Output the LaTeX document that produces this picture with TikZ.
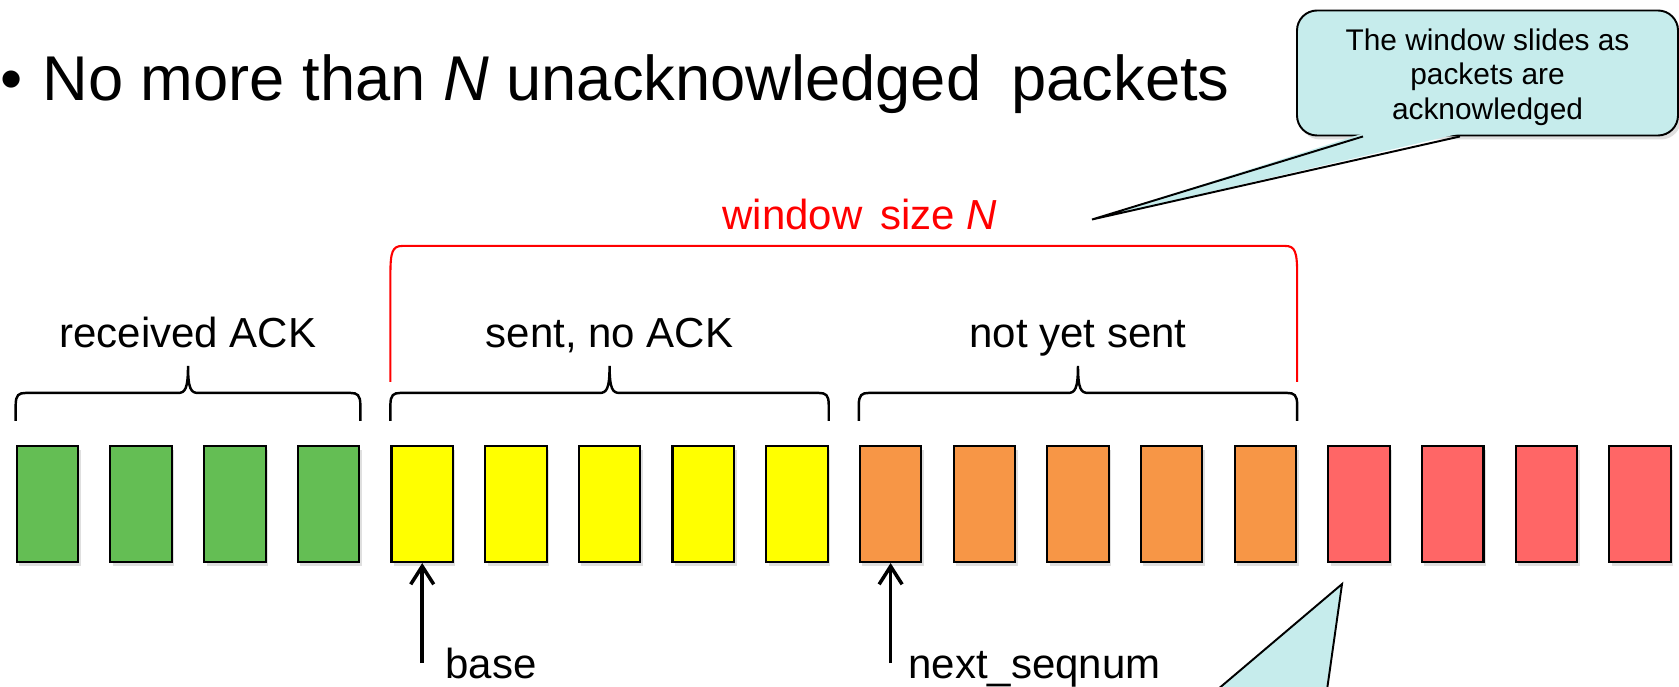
\documentclass[tikz,border=0pt]{standalone}
\usepackage{fontspec}
\setmainfont{Liberation Sans}
\usetikzlibrary{calc,arrows.meta,shadows}

\definecolor{ackgreen}{RGB}{100,190,84}
\definecolor{sentyellow}{RGB}{255,255,0}
\definecolor{waitorange}{RGB}{247,150,70}
\definecolor{freered}{RGB}{255,102,102}
\definecolor{noteblue}{RGB}{198,236,236}

\tikzset{
  pkt/.style={draw=black, line width=1.2pt, minimum width=12.3mm, minimum height=23.2mm,
    inner sep=0pt, drop shadow={opacity=.25, shadow xshift=.5mm, shadow yshift=-.8mm}},
  lbl/.style={font=\fontsize{23.9}{28}\selectfont, inner sep=0pt, anchor=base},
  headline/.style={font=\fontsize{36}{42}\selectfont, inner sep=0pt},
  grp/.style={line width=1.4pt},
  win/.style={red, line width=1.2pt},
  ptr/.style={line width=2pt, -{Straight Barb[length=3.6mm, width=4.6mm]}},
  note/.style={draw=black, fill=noteblue, line width=1.1pt, rounded corners=4mm,
    align=center, font=\fontsize{17}{19.6}\selectfont,
    drop shadow={opacity=.25, shadow xshift=.6mm, shadow yshift=-.8mm}}
}

% brace over a group of packets, from box #1 to box #2
\newcommand{\grpbrace}[2]{%
  \draw[grp] let \p1=(#1.north west), \p2=(#2.north east),
      \p3=($(#1.north west)!.5!(#2.north east)$) in
    (\x1,\y1+4.8mm) -- (\x1,\y1+8mm)
    .. controls (\x1,\y1+10mm) and (\x1+.6mm,\y1+10.4mm) .. (\x1+2mm,\y1+10.4mm)
    -- (\x3-2mm,\y1+10.4mm)
    .. controls (\x3-.6mm,\y1+10.4mm) and (\x3,\y1+11.2mm) .. (\x3,\y1+15.8mm)
    .. controls (\x3,\y1+11.2mm) and (\x3+.6mm,\y1+10.4mm) .. (\x3+2mm,\y1+10.4mm)
    -- (\x2-2mm,\y1+10.4mm)
    .. controls (\x2-.6mm,\y1+10.4mm) and (\x2,\y1+10mm) .. (\x2,\y1+8mm)
    -- (\x2,\y1+4.8mm);
}

\begin{document}
\begin{tikzpicture}[x=0.2mm, y=-0.2mm]
\useasboundingbox (0,0) rectangle (1679,687);

% title line
\node[headline, anchor=base] (dot) at (12,101) {\textbullet};
\node[headline, anchor=base west] (head) at (42,101)
  {No more than \textit{N} unacknowledged\hspace{.2em} packets};

% packets
\foreach \col [count=\i] in {ackgreen,ackgreen,ackgreen,ackgreen,
    sentyellow,sentyellow,sentyellow,sentyellow,sentyellow,
    waitorange,waitorange,waitorange,waitorange,waitorange,
    freered,freered,freered,freered}
  \node[pkt, fill=\col] (b\i) at ({47.5+(\i-1)*93.68}, 504) {};

% groups
\grpbrace{b1}{b4}
\grpbrace{b5}{b9}
\grpbrace{b10}{b14}
\node[lbl, yshift=19.4mm] (ackd) at ($(b1.north west)!.5!(b4.north east)$) {received ACK};
\node[lbl, yshift=19.4mm] (unackd) at ($(b5.north west)!.5!(b9.north east)$) {sent, no ACK};
\node[lbl, yshift=19.4mm] (usable) at ($(b10.north west)!.5!(b14.north east)$) {not yet sent};

% window
\draw[win] let \p1=(b5.north west), \p2=(b14.north east) in
  (\x1,\y1+12.6mm) -- (\x1,\y1+34.2mm)
  .. controls (\x1,\y1+38.6mm) and (\x1+.4mm,\y1+39.8mm) .. (\x1+2.4mm,\y1+39.8mm)
  -- (\x2-2.4mm,\y1+39.8mm)
  .. controls (\x2-.4mm,\y1+39.8mm) and (\x2,\y1+38.6mm) .. (\x2,\y1+34.2mm)
  -- (\x2,\y1+12.6mm);
\node[lbl, red, yshift=43.1mm, xshift=3.2mm] (winsize) at ($(b5.north west)!.5!(b14.north east)$)
  {window\hspace{.15em} size \textit{N}};

% pointers
\coordinate (basetail) at ($(b5.south)+(0,100)$);
\coordinate (nexttail) at ($(b10.south)+(0,100)$);
\draw[ptr] (basetail) -- (b5.south);
\draw[ptr] (nexttail) -- (b10.south);
\node[lbl, anchor=base west] (baselbl) at (445,678) {base};
\node[lbl, anchor=base west] (nextlbl) at (908,678) {next\_seqnum};

% callouts
\node[note, minimum width=76.2mm, minimum height=25mm] (slide) at (1487.5,73)
  {\rule{0pt}{17pt}The window slides as\\packets are\\acknowledged};
\coordinate (slidetip) at (1092,219.5);
\fill[noteblue] ($(slide.south)+(-124.5,-3)$) -- (slidetip) -- ($(slide.south)+(-27.5,-3)$) -- cycle;
\draw[line width=1.1pt] ($(slide.south)+(-124.5,0)$) -- (slidetip) -- ($(slide.south)+(-27.5,0)$);

\coordinate (freetip) at ($(b15.south)+(-17,21)$);
\filldraw[fill=noteblue, line width=1.1pt] (1217,690) -- (freetip) -- (1327,690);
\end{tikzpicture}
\end{document}
